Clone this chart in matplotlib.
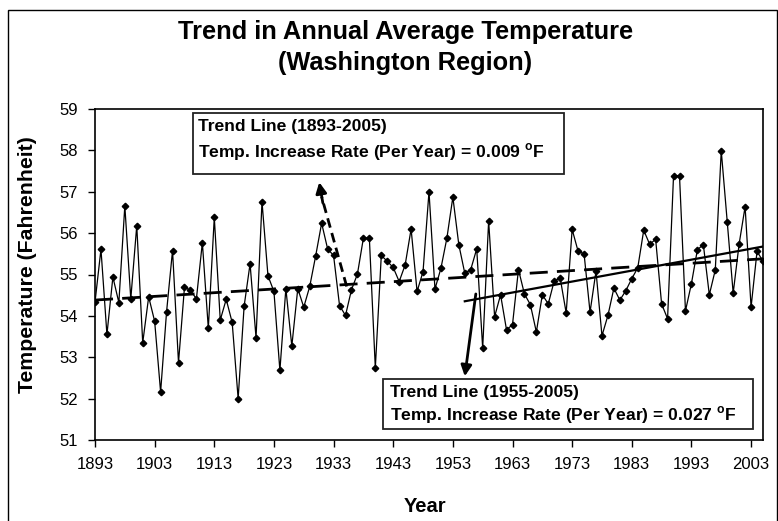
import numpy as np
import matplotlib
matplotlib.use("Agg")
import matplotlib.pyplot as plt
from matplotlib.patches import Rectangle

plt.rcParams['font.family'] = ['Liberation Sans', 'DejaVu Sans']
plt.rcParams['mathtext.fontset'] = 'custom'
plt.rcParams['mathtext.rm'] = 'Liberation Sans'
plt.rcParams['mathtext.bf'] = 'Liberation Sans:bold'

# annual average temperature, 1893-2005
years = np.arange(1893, 2006)
temps = [
    54.33, 55.61, 53.55, 54.94, 54.32, 56.66, 54.41, 56.18, 53.35, 54.46,  # 1893-1902
    53.87, 52.16, 54.10, 55.58, 52.87, 54.69, 54.62, 54.41, 55.77, 53.70,  # 1903-1912
    56.38, 53.90, 54.40, 53.84, 52.00, 54.23, 55.26, 53.47, 56.76, 54.97,  # 1913-1922
    54.59, 52.68, 54.66, 53.27, 54.66, 54.21, 54.71, 55.45, 56.24, 55.62,  # 1923-1932
    55.46, 54.25, 54.01, 54.63, 55.01, 55.88, 55.88, 52.74, 55.46, 55.32,  # 1933-1942
    55.17, 54.83, 55.23, 56.10, 54.59, 55.07, 57.00, 54.65, 55.15, 55.88,  # 1943-1952
    56.87, 55.72, 55.03, 55.12, 55.62, 53.22, 56.30, 53.98, 54.51, 53.66,  # 1953-1962
    53.79, 55.12, 54.53, 54.27, 53.61, 54.51, 54.29, 54.85, 54.91, 54.07,  # 1963-1972
    56.09, 55.56, 55.50, 54.09, 55.08, 53.52, 54.01, 54.67, 54.38, 54.61,  # 1973-1982
    54.90, 55.16, 56.07, 55.73, 55.85, 54.29, 53.93, 57.39, 57.39, 54.12,  # 1983-1992
    54.78, 55.60, 55.72, 54.51, 55.11, 57.99, 56.28, 54.55, 55.74, 56.64,  # 1993-2002
    54.21, 55.56, 55.32,                                                   # 2003-2005
]
temps = np.array(temps)

long_start = 1893
short_start = 1955
xticks = list(range(1893, 2004, 10))
yticks = list(range(51, 60))

# arrow ends (year, temp)
arrow1_from, arrow1_to = (1935.2, 54.71), (1930.6, 57.23)
arrow2_from, arrow2_to = (1956.85, 54.53), (1955.0, 52.54)

W, H = 778, 521
fig = plt.figure(figsize=(W / 100, H / 100), dpi=100)


def fx(x):
    return x / W


def fy(y):
    return 1 - y / H


# chart area border
fig.add_artist(Rectangle((fx(8), fy(540)), fx(777) - fx(8), fy(10) - fy(540),
                         transform=fig.transFigure, fill=False, lw=1, ec='black'))

ax = fig.add_axes([fx(95), fy(440), fx(763) - fx(95), fy(109) - fy(440)])

ax.plot(years, temps, color='black', lw=0.9, marker='D', ms=3.3, zorder=3)

# linear trend lines
m = years >= long_start
p1 = np.polyfit(years[m], temps[m], 1)
m2 = years >= short_start
p2 = np.polyfit(years[m2], temps[m2], 1)
yr1 = np.array([long_start, years[-1]])
yr2 = np.array([short_start, years[-1]])
ax.plot(yr1, np.polyval(p1, yr1), color='black', lw=2.0, dashes=(6.5, 3.3), zorder=4)
ax.plot(yr2, np.polyval(p2, yr2), color='black', lw=1.6, zorder=4)

ax.set_xlim(1893, 2005)
ax.set_ylim(51, 59)
ax.set_xticks(xticks)
ax.set_yticks(yticks)
ax.tick_params(direction='out', length=5, width=1, labelsize=12, pad=7)
for s in ax.spines.values():
    s.set_linewidth(1.2)

# arrows
ax.plot([arrow1_from[0], arrow1_to[0] + 0.4], [arrow1_from[1], arrow1_to[1] - 0.35],
        color='black', lw=2, dashes=(3.5, 2), zorder=5)
ax.annotate('', xy=arrow1_to, xytext=(arrow1_to[0] + 0.6, arrow1_to[1] - 0.5),
            arrowprops=dict(arrowstyle='-|>', color='black', lw=2, mutation_scale=16,
                            shrinkA=0, shrinkB=0), zorder=5)
ax.annotate('', xy=arrow2_to, xytext=arrow2_from,
            arrowprops=dict(arrowstyle='-|>', color='black', lw=2, mutation_scale=16,
                            shrinkA=0, shrinkB=0), zorder=5)

# text boxes
for (x0, y0, x1, y1) in [(193, 113, 564, 174), (383, 379, 753, 429)]:
    fig.add_artist(Rectangle((fx(x0), fy(y1)), fx(x1) - fx(x0), fy(y0) - fy(y1),
                             transform=fig.transFigure, fc='white', ec='#222222',
                             lw=1.3, zorder=6))

box_font = dict(fontsize=12.6, fontweight='bold', va='baseline', ha='left', zorder=7)
fig.text(fx(198), fy(131.5), 'Trend Line (1893-2005)', **box_font)
fig.text(fx(198), fy(157), r'Temp. Increase Rate (Per Year) = 0.009 $^{\mathbf{o}}$F', **box_font)
fig.text(fx(390), fy(396.5), 'Trend Line (1955-2005)', **box_font)
fig.text(fx(390), fy(420.5), r'Temp. Increase Rate (Per Year) = 0.027 $^{\mathbf{o}}$F', **box_font)

# titles
fig.text(fx(405.5), fy(39.5), 'Trend in Annual Average Temperature', fontsize=18.3,
         fontweight='bold', ha='center', va='baseline')
fig.text(fx(405.5), fy(70), '(Washington Region)', fontsize=18.3,
         fontweight='bold', ha='center', va='baseline')
fig.text(fx(28), fy(393), 'Temperature (Fahrenheit)', fontsize=15.3, fontweight='bold',
         rotation=90, ha='center', va='bottom')
fig.text(fx(425), fy(507), 'Year', fontsize=14.5, fontweight='bold', ha='center', va='center')

fig.savefig('out.png', dpi=100)
